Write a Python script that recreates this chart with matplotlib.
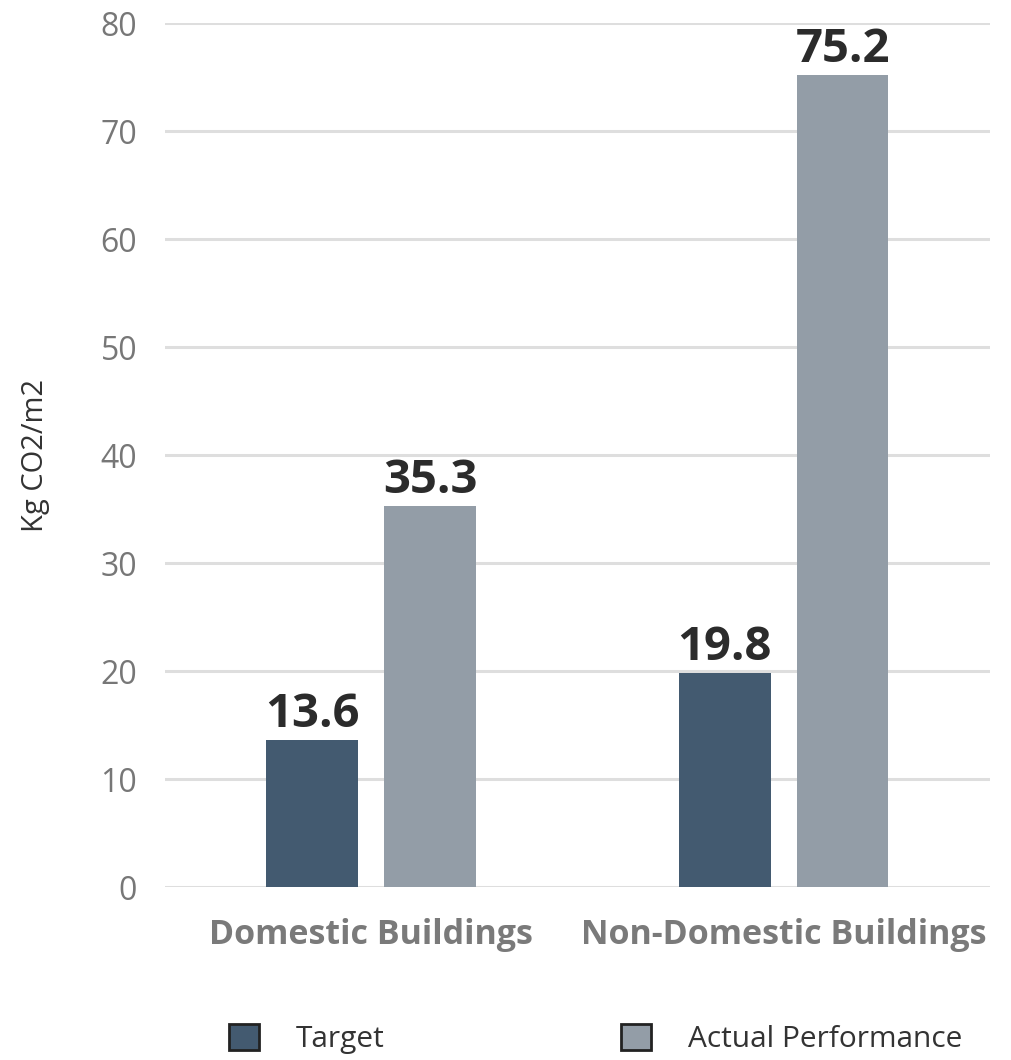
import numpy as np
import matplotlib.pyplot as plt

categories = ["Domestic Buildings", "Non-Domestic Buildings"]
target = [13.6, 19.8]
actual = [35.3, 75.2]
yticks = [0, 10, 20, 30, 40, 50, 60, 70, 80]

plt.rcParams['font.family'] = ['Open Sans', 'DejaVu Sans']

fig = plt.figure(figsize=(10.12, 10.6), dpi=100)
ax = fig.add_axes([0.163, 0.1632, 0.815, 0.815])

x = np.arange(len(categories))
w = 0.223
off = 0.143
b1 = ax.bar(x - off, target, w, color='#435a70', label='Target', zorder=3)
b2 = ax.bar(x + off, actual, w, color='#939da7', label='Actual Performance', zorder=3)

for bars in (b1, b2):
    for r in bars:
        ax.text(r.get_x() + r.get_width() / 2, r.get_height() + 0.2, f"{r.get_height():.1f}",
                ha='center', va='bottom', fontsize=34, fontweight='bold', color='#2b2b2b')

ax.set_xlim(-0.5, 1.5)
ax.set_ylim(0, 80)
ax.set_yticks(yticks)
ax.set_xticks(x)
ax.set_xticklabels(categories, fontsize=24.5, fontweight='bold', color='#7a7a7a')
ax.tick_params(axis='y', labelsize=23, labelcolor='#777777', length=0, pad=20)
ax.tick_params(axis='x', length=0, pad=22)
ax.yaxis.grid(True, color='#dedede', linewidth=2.2, zorder=0)
ax.set_axisbelow(True)
for s in ax.spines.values():
    s.set_visible(False)
ax.set_ylabel("Kg CO2/m2", fontsize=21, color='#333333', labelpad=36)

leg = ax.legend(loc='upper left', bbox_to_anchor=(0.045, -0.127), ncol=2, frameon=False,
                fontsize=21.5, handlelength=1.0, handleheight=1.0, handletextpad=1.25,
                columnspacing=7.9, labelcolor='#333333')
for p in leg.get_patches():
    p.set_edgecolor('#222222')
    p.set_linewidth(2)

fig.savefig("out.png", dpi=100)
